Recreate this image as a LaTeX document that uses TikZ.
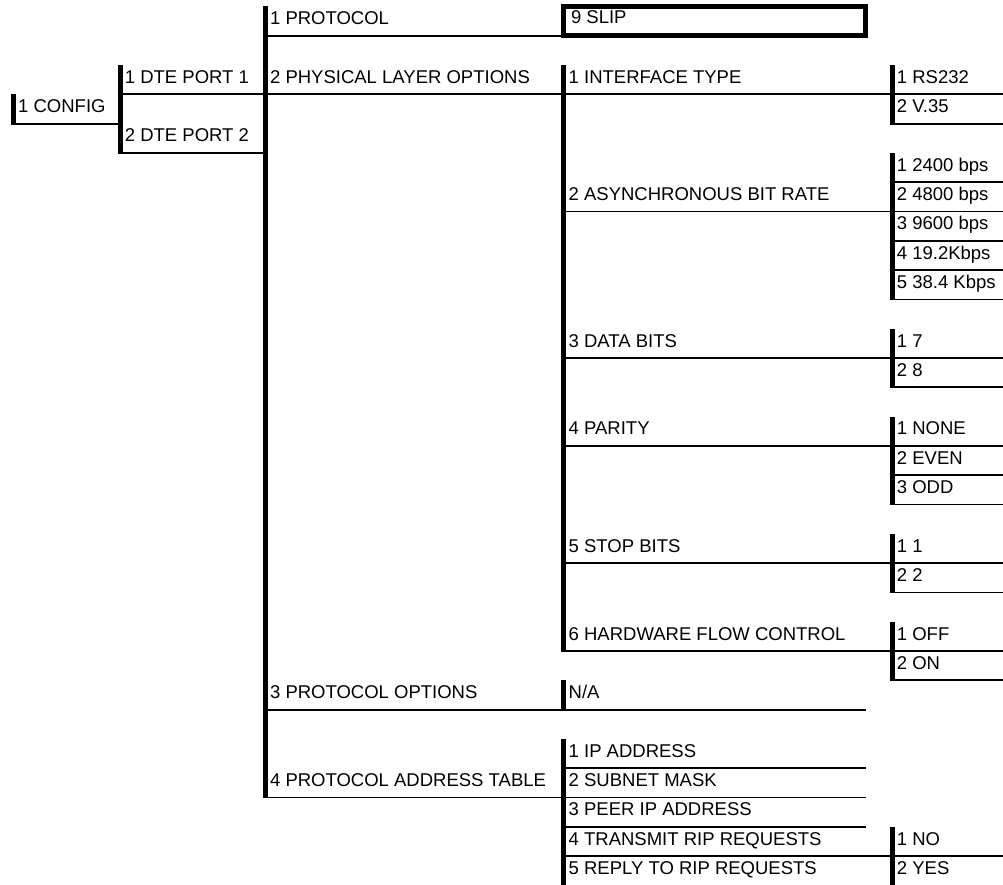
\documentclass[tikz,border=0pt]{standalone}
\usepackage{fontspec}
\setmainfont{Liberation Sans}
\begin{document}
\begin{tikzpicture}[x=1pt,y=-29.3pt,
  barline/.style={line width=5pt},
  ruleline/.style={line width=1.8pt},
  boxline/.style={line width=5pt},
  lbl/.style={anchor=base west,inner sep=0pt,font=\fontsize{18.5}{22}\selectfont}]
\useasboundingbox[fill=white] (0pt,0pt) rectangle (1003pt,-884pt);
\begin{scope}[yshift=-6.4pt]
\def\cA{13.3}\def\cB{120}\def\cC{265.2}\def\cD{563.8}\def\cE{892}\def\xR{1003}\def\xM{865.5}\def\tO{4.7}\def\bO{0.625}
% ---- column 1
\node[lbl] (config) at ({\cA+\tO},{3+\bO}) {1 CONFIG};
\draw[barline] (\cA,3) -- (\cA,4);
\draw[ruleline] ({\cA-2.5},4) -- (\cB,4);
% ---- column 2
\node[lbl] (dte1) at ({\cB+\tO},{2+\bO}) {1 DTE PORT 1};
\node[lbl] (dte2) at ({\cB+\tO},{4+\bO}) {2 DTE PORT 2};
\draw[barline] (\cB,2) -- (\cB,5);
\draw[ruleline] ({\cB-2.5},3) -- (\xR,3);
\draw[ruleline] ({\cB-2.5},5) -- (\cC,5);
% ---- column 3
\node[lbl] (proto) at ({\cC+\tO},{0+\bO}) {1 PROTOCOL};
\node[lbl] (phys) at ({\cC+\tO},{2+\bO}) {2 PHYSICAL LAYER OPTIONS};
\node[lbl] (protoopt) at ({\cC+\tO},{23+\bO}) {3 PROTOCOL OPTIONS};
\node[lbl] (addrtab) at ({\cC+\tO},{26+\bO}) {4 PROTOCOL ADDRESS TABLE};
\draw[barline] (\cC,0) -- (\cC,27);
\draw[ruleline] ({\cC-2.5},1) -- (\cD,1);
\draw[ruleline] ({\cC-2.5},24) -- (\xM,24);
\draw[ruleline] ({\cC-2.5},27) -- (\xM,27);
% ---- SLIP box
\draw[boxline] (\cD,0) rectangle (\xM,1);
\node[lbl] (slip) at ({\cD+7},{0+\bO-0.05}) {9 SLIP};
% ---- column 4
\node[lbl] (iftype) at ({\cD+\tO},{2+\bO}) {1 INTERFACE TYPE};
\node[lbl] (async) at ({\cD+\tO},{6+\bO}) {2 ASYNCHRONOUS BIT RATE};
\node[lbl] (databits) at ({\cD+\tO},{11+\bO}) {3 DATA BITS};
\node[lbl] (parity) at ({\cD+\tO},{14+\bO}) {4 PARITY};
\node[lbl] (stopbits) at ({\cD+\tO},{18+\bO}) {5 STOP BITS};
\node[lbl] (flow) at ({\cD+\tO},{21+\bO}) {6 HARDWARE FLOW CONTROL};
\draw[barline] (\cD,2) -- (\cD,22);
\foreach \r in {7,12,15,19,22} {\draw[ruleline] ({\cD-2.5},\r) -- (\xR,\r);}
% N/A
\node[lbl] (na) at ({\cD+\tO},{23+\bO}) {N/A};
\draw[barline] (\cD,23) -- (\cD,24);
% address table items
\node[lbl] (ip) at ({\cD+\tO},{25+\bO}) {1 IP ADDRESS};
\node[lbl] (subnet) at ({\cD+\tO},{26+\bO}) {2 SUBNET MASK};
\node[lbl] (peer) at ({\cD+\tO},{27+\bO}) {3 PEER IP ADDRESS};
\node[lbl] (txrip) at ({\cD+\tO},{28+\bO}) {4 TRANSMIT RIP REQUESTS};
\node[lbl] (reprip) at ({\cD+\tO},{29+\bO}) {5 REPLY TO RIP REQUESTS};
\draw[barline] (\cD,25) -- (\cD,30.5);
\foreach \r in {26,28} {\draw[ruleline] ({\cD-2.5},\r) -- (\xM,\r);}
\draw[ruleline] ({\cD-2.5},29) -- (\xR,29);
% ---- column 5
\node[lbl] (rs) at ({\cE+\tO},{2+\bO}) {1 RS232};
\node[lbl] (v35) at ({\cE+\tO},{3+\bO}) {2 V.35};
\node[lbl] (b1) at ({\cE+\tO},{5+\bO}) {1 2400 bps};
\node[lbl] (b2) at ({\cE+\tO},{6+\bO}) {2 4800 bps};
\node[lbl] (b3) at ({\cE+\tO},{7+\bO}) {3 9600 bps};
\node[lbl] (b4) at ({\cE+\tO},{8+\bO}) {4 19.2Kbps};
\node[lbl] (b5) at ({\cE+\tO},{9+\bO}) {5 38.4 Kbps};
\node[lbl] (d7) at ({\cE+\tO},{11+\bO}) {1 7};
\node[lbl] (d8) at ({\cE+\tO},{12+\bO}) {2 8};
\node[lbl] (pn) at ({\cE+\tO},{14+\bO}) {1 NONE};
\node[lbl] (pe) at ({\cE+\tO},{15+\bO}) {2 EVEN};
\node[lbl] (po) at ({\cE+\tO},{16+\bO}) {3 ODD};
\node[lbl] (s1) at ({\cE+\tO},{18+\bO}) {1 1};
\node[lbl] (s2) at ({\cE+\tO},{19+\bO}) {2 2};
\node[lbl] (foff) at ({\cE+\tO},{21+\bO}) {1 OFF};
\node[lbl] (fon) at ({\cE+\tO},{22+\bO}) {2 ON};
\node[lbl] (rno) at ({\cE+\tO},{28+\bO}) {1 NO};
\node[lbl] (ryes) at ({\cE+\tO},{29+\bO}) {2 YES};
\foreach \a/\b in {2/4,5/10,11/13,14/17,18/20,21/23,28/30.5} {\draw[barline] (\cE,\a) -- (\cE,\b);}
\foreach \r in {4,6,8,9,10,13,16,17,20,23} {\draw[ruleline] ({\cE-2.5},\r) -- (\xR,\r);}
\end{scope}
\end{tikzpicture}
\end{document}
